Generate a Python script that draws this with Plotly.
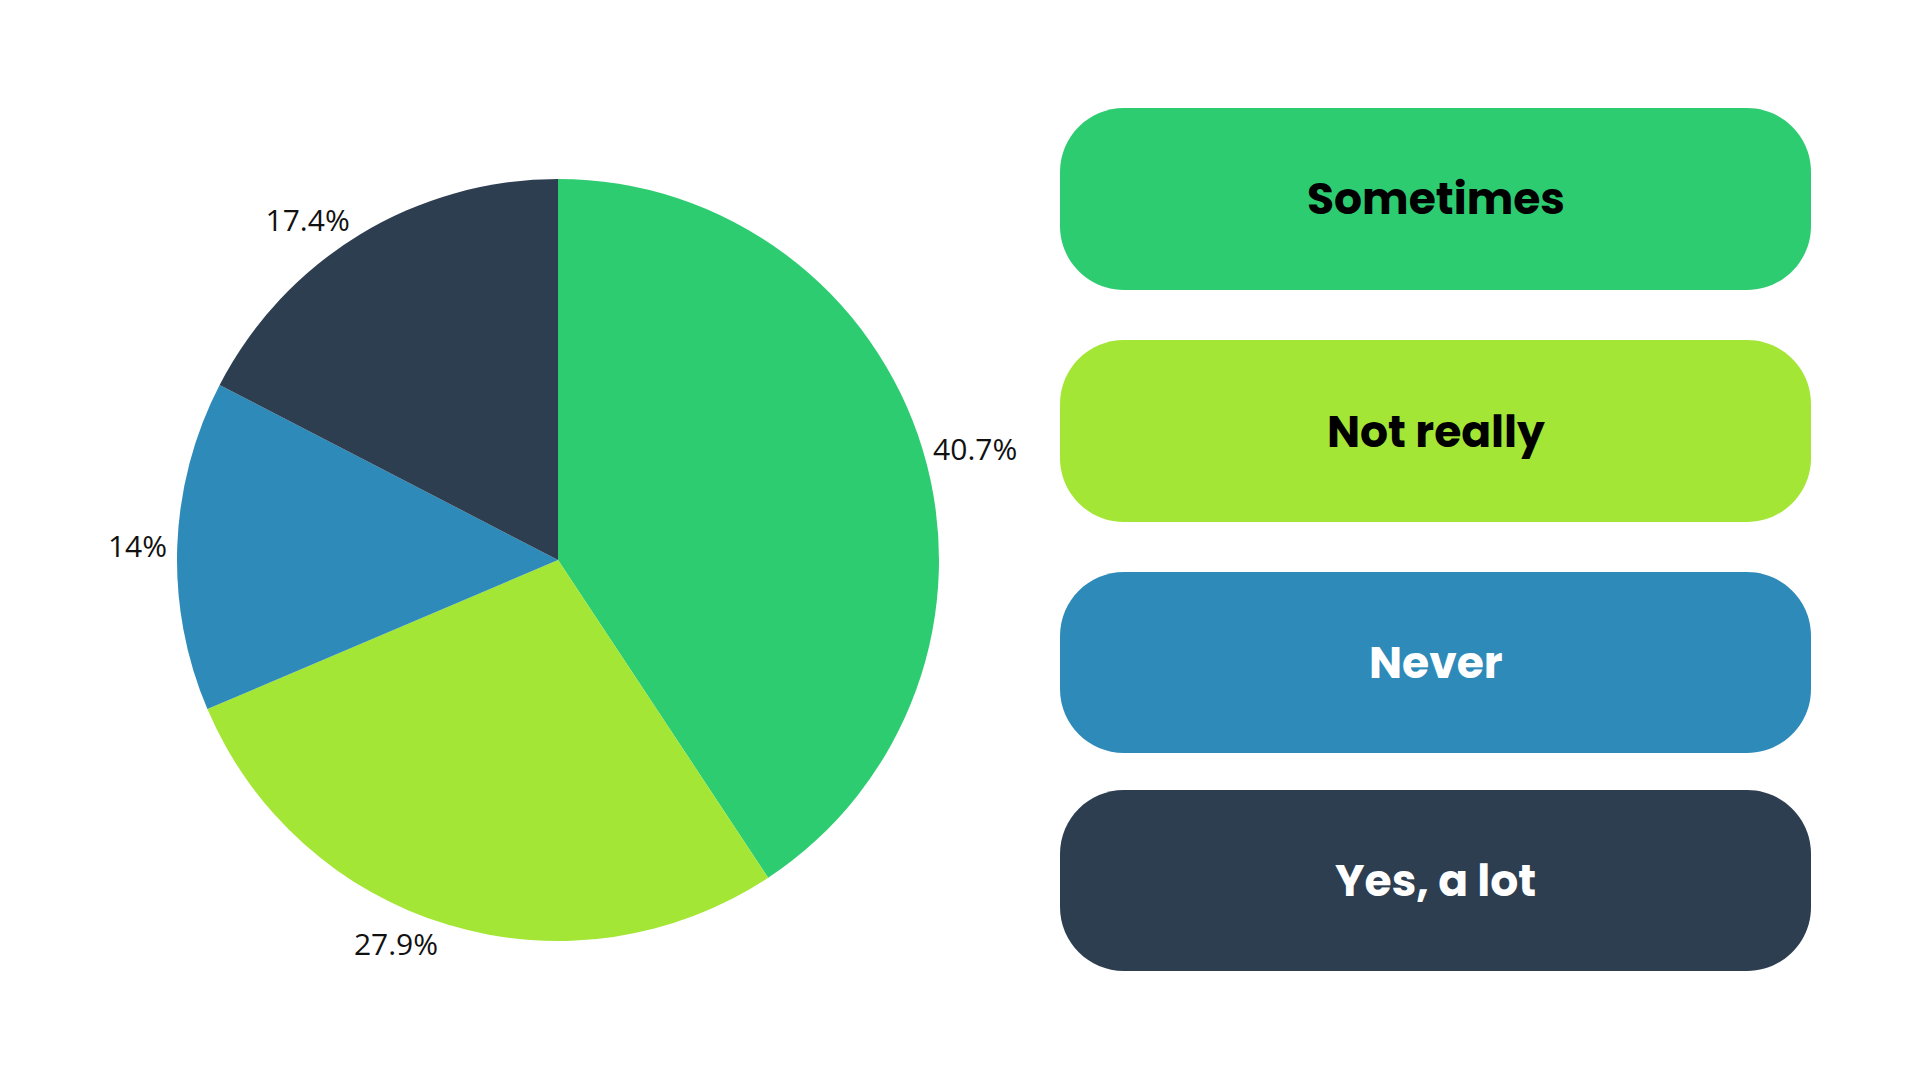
import plotly.graph_objects as go

categories = ["Sometimes", "Not really", "Never", "Yes, a lot"]
values = [40.7, 27.9, 14.0, 17.4]
value_labels = ["40.7%", "27.9%", "14%", "17.4%"]
colors = ["#2ECC71", "#A3E635", "#2E8BB9", "#2C3E50"]
text_colors = ["#000000", "#000000", "#FFFFFF", "#FFFFFF"]

W, H = 1920, 1080

def px(x):
    return x / W

def py(y):
    return 1 - y / H

cx, cy, rad = 558, 560, 381

fig = go.Figure()
fig.add_trace(go.Pie(
    labels=categories,
    values=values,
    text=value_labels,
    textinfo="text",
    textposition="outside",
    sort=False,
    direction="clockwise",
    rotation=0,
    marker=dict(colors=colors, line=dict(width=0)),
    outsidetextfont=dict(family="Open Sans, sans-serif", size=30, color="#111111"),
    hoverinfo="skip",
    showlegend=False,
    domain=dict(x=[px(cx - rad), px(cx + rad)], y=[py(cy + rad), py(cy - rad)]),
))

# custom legend boxes (rounded rectangles)
box_x0, box_x1 = 1060, 1811
box_rows = [(108, 290), (340, 522), (572, 753), (790, 971)]
r = 64
k = 0.5523 * r
shapes = []
annotations = []
for (y0, y1), cat, col, tcol in zip(box_rows, categories, colors, text_colors):
    x0, x1 = box_x0, box_x1
    path = (
        f"M {px(x0 + r)} {py(y0)} L {px(x1 - r)} {py(y0)} "
        f"C {px(x1 - r + k)} {py(y0)} {px(x1)} {py(y0 + r - k)} {px(x1)} {py(y0 + r)} "
        f"L {px(x1)} {py(y1 - r)} "
        f"C {px(x1)} {py(y1 - r + k)} {px(x1 - r + k)} {py(y1)} {px(x1 - r)} {py(y1)} "
        f"L {px(x0 + r)} {py(y1)} "
        f"C {px(x0 + r - k)} {py(y1)} {px(x0)} {py(y1 - r + k)} {px(x0)} {py(y1 - r)} "
        f"L {px(x0)} {py(y0 + r)} "
        f"C {px(x0)} {py(y0 + r - k)} {px(x0 + r - k)} {py(y0)} {px(x0 + r)} {py(y0)} Z"
    )
    shapes.append(dict(type="path", xref="paper", yref="paper", path=path,
                       fillcolor=col, line=dict(width=0), layer="below"))
    annotations.append(dict(
        x=px((x0 + x1) / 2), y=py((y0 + y1) / 2), xref="paper", yref="paper",
        text=cat, showarrow=False, xanchor="center", yanchor="middle",
        font=dict(family="Poppins, Inter, sans-serif", size=44, color=tcol, weight=700),
    ))

fig.update_layout(
    width=W,
    height=H,
    autosize=False,
    margin=dict(l=0, r=0, t=0, b=0),
    paper_bgcolor="#FFFFFF",
    plot_bgcolor="#FFFFFF",
    shapes=shapes,
    annotations=annotations,
)

fig.write_html(
    "out.html",
    config={"displayModeBar": False},
    post_script="document.body.style.margin='0';document.body.style.overflow='hidden';",
)
